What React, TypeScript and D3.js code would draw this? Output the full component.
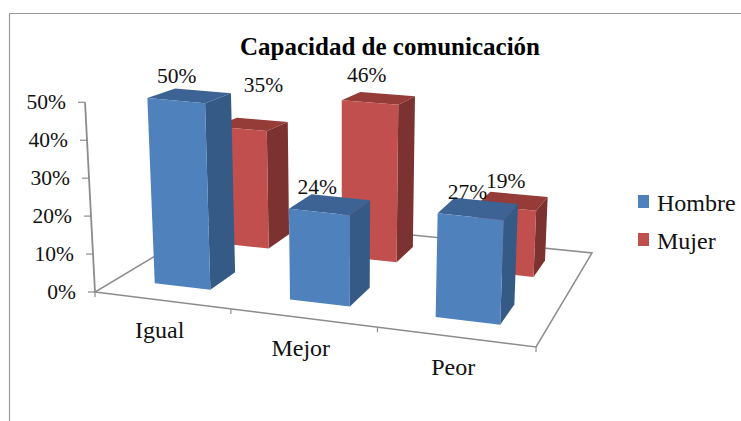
import React from "react";
import * as d3 from "d3";

const categories = ["Igual", "Mejor", "Peor"];
const seriesNames = ["Hombre", "Mujer"];
const hombre = [50, 24, 27];
const mujer = [35, 46, 19];
const valueTicks = [0, 10, 20, 30, 40, 50];
const title = "Capacidad de comunicación";

const serif = "'Liberation Serif', 'Times New Roman', serif";
const colors = {
  Hombre: { front: "#4f81bd", side: "#345a85", top: "#3c6494" },
  Mujer: { front: "#c0504d", side: "#7d3230", top: "#953a38" },
};

// floor homography from the unit square (u along categories, v into depth)
const H = { a: 382.4, b: 173.3, c: 95, d: 17, e: -31, f: 292, g: -0.1094, h: 0.2085 };
const vanish = [345, 5048];
const floor = (u: number, v: number) => {
  const w = H.g * u + H.h * v + 1;
  return [(H.a * u + H.b * v + H.c) / w, (H.d * u + H.e * v + H.f) / w];
};
const project = (u: number, v: number, value: number) => {
  const [x, y] = floor(u, v);
  const k = 3.8 + 0.2 * u - 0.75 * v;
  const dx = x - vanish[0];
  const dy = y - vanish[1];
  const len = Math.hypot(dx, dy);
  return [x + (dx / len) * k * value, y + (dy / len) * k * value];
};

const uScale = d3.scaleBand<string>().domain(categories).range([0, 1]).paddingInner(0.58).paddingOuter(0.29);
const vScale = d3.scaleBand<string>().domain(seriesNames).range([0, 1]).paddingInner(0.6).paddingOuter(0.3);
const catStep = d3.scaleLinear().domain([0, categories.length]).range([0, 1]);

const poly = (pts: number[][]) => (d3.line()(pts as [number, number][]) as string) + "Z";

const rows = [
  { name: "Mujer", values: mujer, labelDx: [12, -12, -7], labelDy: [-32, -16, -13] },
  { name: "Hombre", values: hombre, labelDx: [-13, -13, -11], labelDy: [-12, -10, -10] },
];

export default function App() {
  const fontTick = 21.5;
  const fontCat = 24;
  const axisColor = "#8c8c8c";
  const floorPath = poly([floor(0, 0), floor(1, 0), floor(1, 1), floor(0, 1)]);
  return (
    <svg width={741} height={421} style={{ position: "absolute", left: 0, top: 0, display: "block", background: "#fff" }}>
      <defs>
        <filter id="soft" x="-5%" y="-5%" width="110%" height="110%">
          <feGaussianBlur stdDeviation="0.35" />
        </filter>
      </defs>
      <path d="M9.5,421V13.5H741" fill="none" stroke="#9a9a9a" strokeWidth={1.2} />
      <text x={390} y={55} textAnchor="middle" fontFamily={serif} fontWeight="bold" fontSize={25}>{title}</text>

      <g filter="url(#soft)">
        <path d={floorPath} fill="#fff" stroke={axisColor} strokeWidth={1.5} />
        {d3.range(categories.length + 1).map((i) => {
          const u = catStep(i);
          const [x, y] = floor(u, 0);
          return <line key={i} x1={x} x2={x} y1={y} y2={y + 5} stroke={axisColor} strokeWidth={1.2} />;
        })}
        {(() => {
          const a = project(0, 0, 0);
          const b = project(0, 0, 50);
          return <line x1={a[0]} y1={a[1]} x2={b[0]} y2={b[1]} stroke={axisColor} strokeWidth={1.8} />;
        })()}
        {valueTicks.map((t) => {
          const [x, y] = project(0, 0, t);
          return <line key={t} x1={x - 7} x2={x} y1={y} y2={y} stroke={axisColor} strokeWidth={1.2} />;
        })}
        {rows.map((row) => {
          const c = colors[row.name as "Hombre" | "Mujer"];
          const v0 = vScale(row.name)!;
          const v1 = v0 + vScale.bandwidth();
          return (
            <g key={row.name}>
              {categories.map((cat, i) => {
                const u0 = uScale(cat)!;
                const u1 = u0 + uScale.bandwidth();
                const val = row.values[i];
                return (
                  <g key={cat}>
                    <path d={poly([project(u1, v0, 0), project(u1, v1, 0), project(u1, v1, val), project(u1, v0, val)])} fill={c.side} />
                    <path d={poly([project(u0, v0, val), project(u1, v0, val), project(u1, v1, val), project(u0, v1, val)])} fill={c.top} />
                    <path d={poly([project(u0, v0, 0), project(u1, v0, 0), project(u1, v0, val), project(u0, v0, val)])} fill={c.front} />
                  </g>
                );
              })}
            </g>
          );
        })}
      </g>

      {valueTicks.map((t) => {
        const [x, y] = project(0, 0, t);
        return (
          <text key={t} x={x - 19} y={y + 7} textAnchor="end" fontFamily={serif} fontSize={fontTick} fill="#111">{t}%</text>
        );
      })}
      {rows.map((row) =>
        categories.map((cat, i) => {
          const um = uScale(cat)! + uScale.bandwidth() / 2;
          const vm = vScale(row.name)! + vScale.bandwidth() / 2;
          const [x, y] = project(um, vm, row.values[i]);
          return (
            <text key={row.name + cat} x={x + row.labelDx[i]} y={y + row.labelDy[i]} textAnchor="middle" fontFamily={serif} fontSize={fontTick} fill="#111">
              {row.values[i]}%
            </text>
          );
        })
      )}
      {categories.map((cat) => {
        const [x, y] = floor(uScale(cat)! + uScale.bandwidth() / 2, 0);
        return (
          <text key={cat} x={x - 2} y={y + 38} textAnchor="middle" fontFamily={serif} fontSize={fontCat} fill="#111">{cat}</text>
        );
      })}
      {seriesNames.map((s, i) => {
        const y = 195 + i * 38;
        return (
          <g key={s}>
            <rect x={638} y={y} width={11} height={13} fill={colors[s as "Hombre" | "Mujer"].front} />
            <text x={657} y={y + 16} fontFamily={serif} fontSize={fontCat} fill="#111">{s}</text>
          </g>
        );
      })}
    </svg>
  );
}
